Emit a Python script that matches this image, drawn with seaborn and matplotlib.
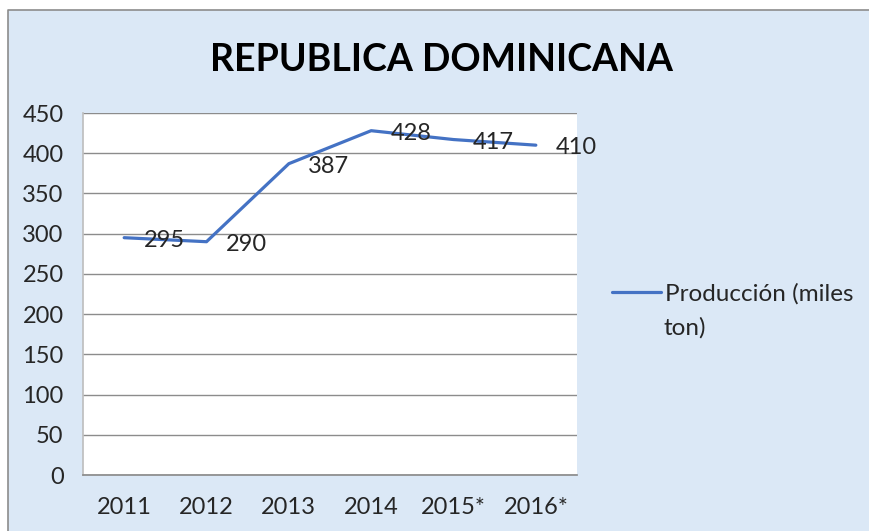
import matplotlib.pyplot as plt
import pandas as pd
import seaborn as sns
from matplotlib.lines import Line2D
from matplotlib.patches import Rectangle

# data
years = ["2011", "2012", "2013", "2014", "2015*", "2016*"]
produccion = [295, 290, 387, 428, 417, 410]
y_ticks = [0, 50, 100, 150, 200, 250, 300, 350, 400, 450]
serie = "Producción (miles ton)"

df = pd.DataFrame({"year": years, "value": produccion})

sns.set_theme(style="white")
plt.rcParams["font.family"] = ["Lato", "DejaVu Sans"]

fig = plt.figure(figsize=(8.7, 5.31), dpi=100)
fig.patch.set_facecolor("white")
# light blue chart area; only its left and top borders fall inside the picture
x0, y0 = 8 / 870, 1 - 10 / 531
fig.add_artist(Rectangle((x0, 0), 1 - x0, y0, transform=fig.transFigure,
                         facecolor="#dbe8f6", edgecolor="none", zorder=-10))
fig.add_artist(Line2D([x0, x0, 1], [0, y0, y0], transform=fig.transFigure,
                      color="#8c8c8c", lw=1.2, zorder=-9))

ax = fig.add_axes([83 / 870, 56 / 531, 494 / 870, 362 / 531])
ax.set_zorder(1)
ax.set_facecolor("white")

sns.lineplot(data=df, x="year", y="value", ax=ax, color="#4472c4", lw=2.3,
             label=serie, legend=False)

for i, v in enumerate(produccion):
    ax.annotate(str(v), (i, v), xytext=(14, -2), textcoords="offset points",
                ha="left", va="center", fontsize=17, color="#262626",
                annotation_clip=False)

ax.set_xlim(-0.5, len(years) - 0.5)
ax.set_ylim(0, 450)
ax.set_yticks(y_ticks)
ax.set_xticks(range(len(years)))
ax.set_xticklabels(years)
ax.yaxis.grid(True, color="#8c8c8c", lw=1)
ax.xaxis.grid(False)
ax.tick_params(axis="y", length=0, pad=14, labelsize=17, labelcolor="#262626")
ax.tick_params(axis="x", length=0, pad=16, labelsize=17, labelcolor="#262626")
ax.set_xlabel("")
ax.set_ylabel("")
for side in ["top", "right"]:
    ax.spines[side].set_visible(False)
ax.spines["left"].set_color("#bfbfbf")
ax.spines["bottom"].set_color("#8c8c8c")

fig.text(441 / 870, 1 - 60 / 531, "REPUBLICA DOMINICANA", ha="center", va="center",
         fontsize=27, fontweight="bold", color="black")

# legend: the label wraps onto a second line, handle aligned with the first
handle = ax.get_lines()[0]
fig.legend([handle], ["Producción (miles"], loc="center left",
           bbox_to_anchor=(612 / 870, 1 - 294 / 531), frameon=False,
           borderpad=0, borderaxespad=0, handlelength=2.0, handletextpad=0.2,
           fontsize=17.5, labelcolor="#262626")
fig.text(664 / 870, 1 - 328 / 531, "ton)", ha="left", va="center",
         fontsize=17.5, color="#262626")

fig.savefig("out.png", dpi=100)
